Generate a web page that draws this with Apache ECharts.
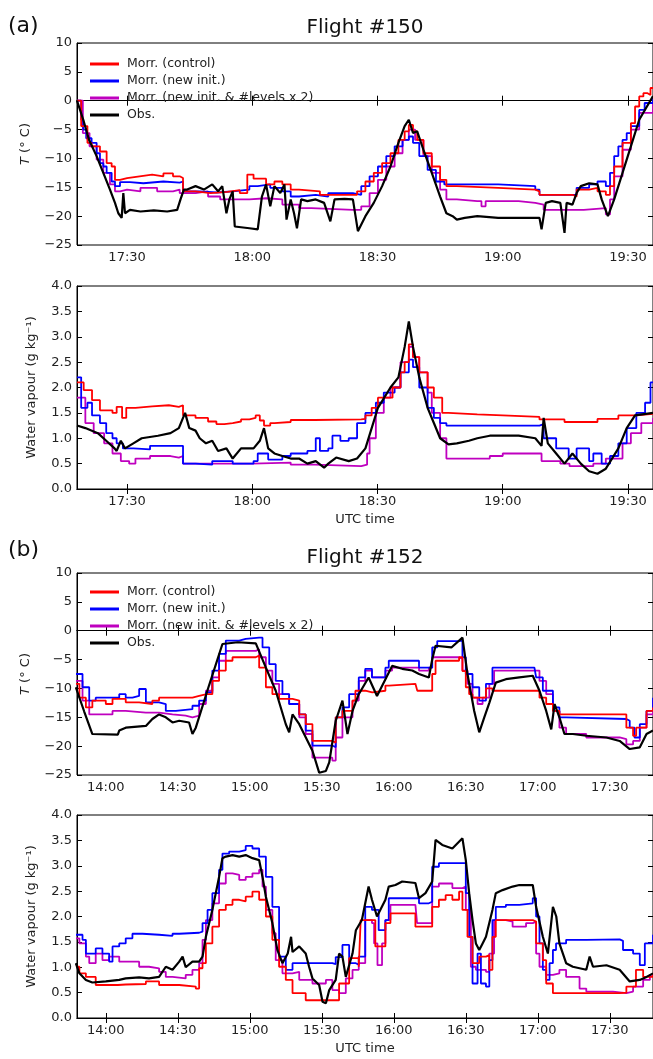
<!DOCTYPE html>
<html>
<head>
<meta charset="utf-8">
<script src="https://cdn.jsdelivr.net/npm/echarts@6/dist/echarts.min.js"></script>
<style>
  html, body { margin: 0; padding: 0; background: #fff; }
  #chart { width: 653px; height: 1059px; }
</style>
</head>
<body>
<div id="chart"></div>
<script>
// time in minutes after midnight (UTC)

// ---- Flight #150 ----
const xRange150 = [1038, 1176];
const ticks150 = [1050, 1080, 1110, 1140, 1170];

const tempControl150 = [[1038,0],[1039,-4.4],[1040.5,-7.3],[1041.5,-7.9],[1043.5,-8.8],[1045.1,-10.8],[1046.3,-11.4],[1047.1,-13.7],[1048.3,-13.4],[1050,-13.1],[1053,-12.8],[1056,-13.1],[1058.7,-12.6],[1061,-13.1],[1062.6,-13.4],[1063.4,-15.7],[1066.4,-16],[1070,-15.8],[1074,-15.5],[1077,-16],[1078.8,-12.8],[1080.3,-13.5],[1083.3,-14.5],[1085.3,-14],[1087.2,-14.5],[1089.2,-15.4],[1091.2,-15.7],[1096.2,-16.3],[1104.1,-16.3],[1105.1,-15.7],[1107.1,-14],[1109.1,-12.5],[1111.1,-10.8],[1113.1,-9.1],[1115,-6.8],[1116.5,-5.3],[1117.5,-4.2],[1118.5,-5.3],[1119.5,-6.8],[1121,-9.1],[1123,-11.4],[1125,-13.7],[1126.5,-14.8],[1129,-15.1],[1138.9,-15.4],[1147.8,-15.7],[1148.8,-16.3],[1156.7,-16.6],[1157.7,-15.4],[1160.7,-15.1],[1162.7,-15.7],[1164.7,-16.3],[1165.7,-14.8],[1166.7,-11.4],[1168.7,-7.3],[1170.7,-3.9],[1171.7,-1],[1172.7,0.75],[1173.7,1.3],[1174.7,1],[1175.4,2.2],[1176,2.2]];
const tempNewInit150 = [[1038,0],[1039,-3.3],[1039.5,-5],[1040.2,-6.5],[1041.5,-7.3],[1042.7,-9.1],[1043.5,-10.8],[1044.3,-11.4],[1045.1,-12.5],[1046.3,-14],[1047.1,-14.8],[1048.3,-14.1],[1050.7,-14.3],[1053.9,-14],[1058.7,-14.2],[1062.6,-14],[1063.4,-15.7],[1067.4,-15.9],[1071.4,-15.7],[1075.3,-15.4],[1079.3,-14.8],[1081.3,-14.5],[1084.3,-15.1],[1087.2,-15.7],[1089.2,-16.6],[1091.2,-16.3],[1095.2,-16.6],[1098.2,-16],[1101.1,-16],[1104.1,-16.3],[1106.1,-14.8],[1108.1,-13.1],[1110.1,-11.4],[1112.1,-9.6],[1114.1,-7.9],[1116,-6.8],[1117.5,-6.2],[1118.5,-7.3],[1120,-9.6],[1122,-12],[1124,-14],[1126,-14.5],[1129,-14.5],[1138.9,-14.8],[1147.8,-15.4],[1148.8,-16.3],[1156.7,-16.3],[1157.7,-15.1],[1160.7,-14.5],[1162.7,-14],[1164.7,-14.8],[1165.7,-12.5],[1166.7,-9.6],[1167.7,-7.9],[1168.7,-6.8],[1169.7,-5.6],[1170.7,-4.4],[1172.7,-1.6],[1174,-0.4],[1176,0.5]];
const tempLevels150 = [[1038,0],[1039.4,-5.6],[1041,-7.9],[1042.7,-10.2],[1044.3,-12.5],[1045.9,-14.5],[1047.1,-15.7],[1048.3,-15.4],[1050,-15.7],[1053.2,-15.1],[1057.2,-15.7],[1061,-15.4],[1062.6,-16],[1066.4,-15.7],[1069.4,-16.6],[1072.3,-17.1],[1079.3,-16.9],[1083.3,-17.1],[1087.2,-18],[1091.2,-18.6],[1094.2,-18.9],[1104.1,-18.9],[1106.1,-18.3],[1108.1,-16],[1110.1,-13.7],[1112.1,-11.4],[1114.1,-9.1],[1116,-6.8],[1117.5,-5],[1119,-6.8],[1121,-9.6],[1123,-12.5],[1125,-15.4],[1126.5,-17.1],[1129,-17.4],[1133.9,-17.4],[1134.9,-18.3],[1135.9,-17.4],[1143.8,-17.7],[1147.8,-18],[1149.8,-18.9],[1156.6,-18.9],[1159.4,-18.6],[1164.7,-19.7],[1165.7,-17.1],[1166.7,-13.1],[1168.7,-8.5],[1170.7,-5],[1172.7,-2.1],[1176,-0.4]];
const tempObs150 = [[1038,0],[1039.5,-3.3],[1040.9,-6.8],[1042.7,-9.6],[1044.3,-12.5],[1045.9,-15.4],[1047.1,-17.7],[1047.9,-19.5],[1048.7,-20.3],[1049.1,-16],[1049.5,-19.5],[1050.7,-18.9],[1053.2,-19.2],[1056.4,-19],[1059.6,-19.2],[1062,-18.9],[1062.8,-17.1],[1063.6,-15.4],[1064.4,-15.4],[1066.4,-14.8],[1068.4,-15.4],[1070.4,-14.5],[1071.8,-15.7],[1072.8,-14.8],[1073.8,-19.5],[1074.5,-17.1],[1075.3,-15.7],[1075.8,-21.8],[1079.3,-22.1],[1081.3,-22.3],[1082.3,-16.6],[1083.3,-14.5],[1084.3,-18.3],[1085.3,-14.8],[1086.7,-16],[1087.7,-14.5],[1088.2,-20.6],[1089.2,-17.1],[1090,-19.5],[1090.7,-22.1],[1091.7,-17.1],[1093.2,-17.4],[1095.2,-17.1],[1097.2,-17.7],[1098.7,-20.9],[1099.7,-17.1],[1102.1,-17],[1104.1,-17.1],[1105.3,-22.6],[1107.1,-20],[1109.1,-17.7],[1111.1,-14.8],[1113.1,-11.4],[1115,-7.3],[1116.5,-4.4],[1117.5,-3.3],[1118.5,-5.6],[1119.5,-5.3],[1121,-8.5],[1123,-12.5],[1125,-16.6],[1126.5,-19.5],[1128,-20],[1129,-20.6],[1130.9,-20.3],[1133.9,-20],[1138.9,-20.3],[1143.8,-20.3],[1148.8,-20.3],[1149.3,-22.3],[1150.3,-17.7],[1151.8,-17.4],[1153.8,-17.7],[1154.8,-22.9],[1155.3,-17.7],[1156.7,-18],[1157.7,-16],[1158.7,-14.8],[1160.7,-14.3],[1162.7,-14.5],[1163.7,-17.1],[1165.2,-20],[1166.7,-17.1],[1168.7,-12.5],[1170.7,-7.9],[1172.7,-3.3],[1176,0.8]];

const vapControl150 = [[1038,2.1],[1039.6,1.95],[1041.6,1.75],[1043.5,1.55],[1046.5,1.5],[1047.5,1.62],[1048.8,1.4],[1049.8,1.6],[1052,1.63],[1056,1.65],[1060,1.62],[1062.4,1.65],[1063.4,1.45],[1066.4,1.4],[1069.4,1.33],[1071.4,1.28],[1073.3,1.3],[1075.3,1.33],[1077.3,1.37],[1079.3,1.4],[1080.8,1.45],[1081.8,1.35],[1082.8,1.25],[1084.3,1.3],[1085.3,1.32],[1089.2,1.36],[1095,1.37],[1106.1,1.38],[1107.1,1.45],[1108.6,1.6],[1110.1,1.8],[1113.6,2.0],[1115.5,2.3],[1116.5,2.5],[1117.5,2.85],[1118.5,2.6],[1120,2.3],[1122,2.0],[1123.5,1.8],[1125.5,1.5],[1127,1.47],[1133.9,1.45],[1140,1.42],[1148.8,1.37],[1154.8,1.32],[1158.7,1.32],[1162.7,1.38],[1167.7,1.45],[1172,1.48],[1176,1.5]];
const vapNewInit150 = [[1038,2.2],[1039,1.6],[1040.5,1.7],[1041.6,1.45],[1043.5,1.3],[1045,1.1],[1046.5,1.0],[1047.5,0.9],[1049,0.8],[1051.5,0.78],[1055.5,0.85],[1062.4,0.85],[1063.4,0.5],[1066.4,0.48],[1070.4,0.55],[1075.3,0.5],[1080.3,0.55],[1081.3,0.7],[1083.8,0.58],[1087.2,0.65],[1089.2,0.7],[1093.2,0.75],[1095.2,1.0],[1096.2,0.75],[1098.2,0.8],[1099.2,1.05],[1101.1,0.95],[1103.1,1.0],[1105.1,1.3],[1107.1,1.5],[1109.6,1.7],[1111.5,1.9],[1114.1,2.0],[1115.5,2.3],[1117.5,2.55],[1118.5,2.4],[1120,2.0],[1122,1.6],[1123.5,1.4],[1125,1.3],[1126.5,1.25],[1135,1.25],[1148.8,1.28],[1149.8,1.0],[1152.8,0.8],[1155.8,0.6],[1157.7,0.8],[1160.7,0.55],[1161.7,0.7],[1163.7,0.5],[1165.7,0.65],[1167.7,0.9],[1169.7,1.2],[1172,1.5],[1174.1,1.7],[1175.4,2.1],[1176,2.1]];
const vapLevels150 = [[1038,1.8],[1040,1.3],[1042,1.1],[1044.5,0.9],[1046.5,0.7],[1048.5,0.55],[1050.5,0.5],[1052,0.6],[1055.5,0.65],[1060.4,0.62],[1062.4,0.65],[1063.4,0.5],[1070,0.5],[1080,0.52],[1089.2,0.48],[1095,0.45],[1106.1,0.48],[1107.5,0.7],[1108.1,1.0],[1109.6,1.5],[1111.5,1.8],[1113.1,2.0],[1115.5,2.5],[1117.5,2.8],[1118.5,2.6],[1120,2.3],[1122,1.9],[1123,1.5],[1125,1.0],[1126.5,0.6],[1130,0.6],[1136.9,0.65],[1140,0.7],[1148.8,0.7],[1149.3,0.55],[1153.8,0.5],[1156,0.45],[1159.4,0.45],[1161.7,0.5],[1164.7,0.6],[1168.7,0.9],[1170.7,1.1],[1173.2,1.3],[1176,1.4]];
const vapObs150 = [[1038,1.25],[1040,1.2],[1043,1.1],[1045,0.95],[1047,0.8],[1047.5,0.75],[1048.5,0.95],[1049.5,0.8],[1051.5,0.9],[1053.5,1.0],[1057.4,1.05],[1060.4,1.1],[1062.4,1.2],[1063.4,1.4],[1063.9,1.5],[1064.9,1.2],[1066.4,1.15],[1067.4,1.0],[1068.9,0.9],[1070.4,0.95],[1071.8,0.75],[1073.8,0.8],[1075.3,0.6],[1077.3,0.8],[1080.3,0.8],[1081.8,0.95],[1082.8,1.2],[1083.8,0.8],[1085.3,0.7],[1087.2,0.65],[1089.2,0.6],[1091.2,0.6],[1093.2,0.5],[1095.2,0.55],[1097.2,0.42],[1098.2,0.5],[1100.1,0.62],[1103.1,0.55],[1105.1,0.6],[1107.1,0.8],[1108.6,1.2],[1110.1,1.6],[1113.1,2.0],[1115,2.2],[1116.5,2.8],[1117.5,3.3],[1118.5,2.8],[1120,2.2],[1122,1.6],[1123.5,1.3],[1125,1.0],[1127,0.88],[1129,0.9],[1131.9,0.95],[1133.9,1.0],[1136.9,1.05],[1143.8,1.05],[1147.8,1.0],[1149.3,0.85],[1149.8,1.4],[1150.8,0.9],[1152.8,0.7],[1154.8,0.5],[1156.7,0.7],[1158.7,0.5],[1160.7,0.35],[1162.7,0.3],[1164.7,0.4],[1167.7,0.8],[1169.7,1.2],[1171.7,1.45],[1176,1.5]];

// ---- Flight #152 ----
const xRange152 = [828, 1068];
const ticks152 = [840, 870, 900, 930, 960, 990, 1020, 1050];

const tempControl152 = [[827.5,-9.2],[829,-11.6],[831.7,-13.3],[834.4,-12.1],[840,-12.7],[842.8,-11.8],[848.3,-12.4],[853.9,-12.7],[859.4,-12.1],[862.2,-11.6],[870,-11.6],[876.1,-11.3],[878.9,-11],[882,-11],[884.4,-8.7],[887.2,-6.9],[890,-5.2],[892.8,-4.6],[902.5,-4.3],[903.9,-6.4],[906.7,-9.8],[909.4,-11],[912.2,-11.8],[917.8,-12.1],[920.6,-14.5],[923.3,-16.2],[926.1,-19.1],[934.4,-19.4],[935.8,-15],[938.6,-13.9],[942.8,-12.1],[944,-10.4],[948.1,-10.7],[951,-10.4],[956.5,-9.5],[958,-9.2],[969,-9.2],[969.8,-10.4],[974.6,-10.4],[976,-7.5],[977.4,-5.2],[987.2,-4.6],[988.6,-7],[990,-9.8],[991.4,-11],[992.8,-11.6],[995.6,-11.6],[998.4,-10],[1001.1,-10.4],[1017.9,-10.4],[1020.7,-11.6],[1023.5,-12.7],[1026.3,-13.9],[1029,-14.5],[1055.5,-14.5],[1056.9,-16.8],[1059.7,-18.2],[1061,-16.8],[1063.9,-16.8],[1065.3,-13.9],[1068,-13.3]];
const tempNewInit152 = [[827.5,-7.5],[830.3,-9.8],[833.1,-12.1],[835.8,-11.6],[845.6,-11],[848.3,-11.6],[851.1,-11.3],[853.9,-10.1],[856.7,-12.4],[862.2,-12.7],[865,-13.9],[869.2,-13.6],[876.1,-13],[878.9,-12.1],[881.7,-10.7],[884.4,-6.9],[887.2,-4],[890,-1.7],[895.6,-1.4],[898.3,-1.2],[903.9,-1.2],[905.3,-2.9],[908.1,-5.8],[910.8,-8.7],[913.6,-11],[916.4,-12.7],[920.6,-14.5],[923.3,-17.3],[926.1,-19.9],[934.4,-20.2],[935.8,-15],[938.6,-13.3],[941.4,-11],[945.4,-8.1],[948.1,-6.6],[950.9,-8.1],[955.1,-8.1],[956.5,-6.4],[957.9,-5.2],[969,-5.2],[970.5,-6.4],[974.6,-6.4],[976,-2.9],[978.1,-1.8],[987.2,-1.7],[988.6,-4.6],[990,-7.5],[992.8,-9.8],[995.6,-12.1],[998.4,-9.2],[1001.1,-6.4],[1018.6,-6.4],[1019.3,-8.1],[1022.1,-10.4],[1026.3,-13.3],[1029,-15],[1031.8,-15.3],[1056.9,-15.6],[1058.3,-16.8],[1060.3,-18.5],[1062.5,-16.2],[1065.3,-13.9],[1068,-11.6]];
const tempLevels152 = [[827.5,-8.7],[830.3,-12.1],[833.1,-14.5],[840,-14.5],[842.8,-13.9],[848.3,-14.2],[856.7,-14.2],[862.2,-14.5],[867.8,-14.7],[873.3,-15],[876.1,-14.7],[878.9,-12.7],[881.7,-10.4],[884.4,-8.1],[887.2,-5.2],[890,-3.5],[902.5,-3.2],[903.9,-4.6],[906.7,-6.9],[909.4,-9.2],[912.2,-11],[916.4,-12.7],[920.6,-15],[923.3,-17.9],[926.1,-22],[934.4,-22.5],[935.8,-18.5],[938.6,-15],[942.8,-12.1],[945.4,-8.7],[948.1,-6.9],[950.9,-8.1],[955.1,-8.1],[956.5,-6.9],[959.3,-6.4],[970.5,-6.9],[974.6,-6.4],[976,-4.6],[987.2,-4.9],[988.6,-6.9],[990.7,-9.2],[992.8,-11.6],[994.9,-12.7],[997,-11.6],[999.8,-9.2],[1001.8,-6.9],[1017.9,-6.9],[1020.7,-8.7],[1023.5,-11],[1026.3,-13.9],[1029,-16.8],[1031.8,-17.9],[1040.2,-18.5],[1054.1,-18.8],[1056.9,-19.7],[1059.7,-19.1],[1062.5,-16.8],[1065.3,-14.5],[1068,-12.1]];
const tempObs152 = [[827.5,-9.8],[831,-14],[834.4,-17.9],[845,-18],[845.6,-17.3],[848.3,-16.8],[856.7,-16.5],[859.4,-15.3],[862.2,-14.5],[865,-15],[867.8,-15.9],[870.6,-15.6],[874.7,-15.9],[876.1,-17.9],[877.5,-16.8],[883,-9.5],[888.6,-2.3],[895,-2],[902.5,-2.2],[906.7,-6.4],[910.8,-10.4],[915,-16.2],[916.4,-17.6],[917.8,-14.5],[920.6,-16.2],[926.1,-20.8],[928.9,-24.6],[931.7,-24.3],[933.1,-22.8],[935.8,-15.6],[938.6,-12.1],[940.7,-17.9],[942.8,-13.9],[945.4,-11],[949.5,-8.1],[953,-11.3],[959.3,-6.1],[963.5,-6.6],[967.7,-6.9],[970.5,-7.5],[974.6,-8.1],[976,-5],[977.4,-2.6],[984,-2.9],[988.6,-1.2],[990.7,-7.5],[993.5,-13.9],[995.6,-17.6],[997.7,-15],[999.8,-12.5],[1002.5,-9],[1006.7,-8.4],[1012.3,-8.1],[1017.9,-7.8],[1020.7,-10.4],[1023.5,-13.9],[1025.6,-17.1],[1027,-12.7],[1029,-15],[1031.1,-17.9],[1034.6,-17.9],[1040.2,-18.2],[1048.6,-18.5],[1054.1,-19.1],[1058.3,-20.5],[1062.5,-20.2],[1065.3,-17.9],[1068,-17.3]];

const vapControl152 = [[827.5,1.01],[829,0.88],[831.7,0.81],[835.8,0.65],[845,0.66],[848.3,0.67],[856.7,0.72],[862.2,0.65],[867.8,0.65],[870.6,0.62],[877.5,0.58],[878.9,0.98],[880.3,1.08],[881.7,1.47],[884.4,1.8],[887.2,2.13],[890,2.23],[892.8,2.33],[895.6,2.3],[898.3,2.39],[901.1,2.49],[903.9,2.33],[906.7,2.0],[909.4,1.54],[912.2,1.01],[915,0.75],[917.8,0.49],[923.3,0.35],[935.8,0.35],[937.2,0.68],[938.6,0.68],[941.4,1.18],[944,1.18],[945.4,1.01],[946.2,1.93],[950.9,1.93],[952.3,1.41],[955.1,1.41],[956.5,1.87],[958.6,2.06],[967.7,2.06],[969,1.8],[974.6,1.8],[976,2.19],[978.8,2.33],[981.6,2.42],[984.4,2.33],[987.2,2.49],[988.6,2.13],[990.7,1.6],[992.8,1.08],[995.6,1.21],[998.4,1.24],[999.8,0.95],[1001.1,1.6],[1002.5,1.93],[1017.9,1.9],[1019.3,1.47],[1022.1,1.14],[1023.5,0.68],[1026.3,0.49],[1054.1,0.5],[1056.9,0.62],[1060.9,0.95],[1063.9,0.81],[1068,0.88]];
const vapNewInit152 = [[827.5,1.64],[830.3,1.54],[831.7,1.27],[835.8,1.37],[838.6,1.27],[841.4,1.11],[842.8,1.41],[845.6,1.47],[848.3,1.57],[851.1,1.66],[855.3,1.64],[862.2,1.62],[867.8,1.66],[870.6,1.68],[878.9,1.7],[880.3,1.87],[882.4,2.13],[884.4,2.46],[887.2,2.92],[888.6,3.24],[891.4,3.28],[895.6,3.31],[898.3,3.39],[901.1,3.34],[903.9,3.18],[906.7,2.78],[909.4,2.19],[912.2,1.21],[915,0.95],[917.8,1.08],[934.4,1.06],[935.8,1.2],[938.6,1.44],[941.4,1.08],[944.2,1.05],[945.4,1.21],[948.1,2.19],[950.9,2.13],[953.7,1.73],[956.5,1.93],[957.9,2.36],[969,2.36],[970.5,2.26],[974.6,2.29],[976,2.98],[978.8,3.05],[988.6,3.05],[990,2.46],[991.4,1.6],[992.8,0.68],[994.9,1.27],[996.3,0.68],[998.4,0.62],[999.8,1.14],[1001.1,1.93],[1002.5,2.19],[1006.7,2.23],[1012.3,2.26],[1017.9,2.36],[1019.3,2.0],[1020.7,1.47],[1022.1,0.95],[1023.5,0.75],[1024.9,1.08],[1026.3,1.34],[1027.6,1.47],[1031.8,1.54],[1040.2,1.55],[1054.1,1.52],[1055.5,1.34],[1059.7,1.27],[1062.5,1.04],[1064.6,1.47],[1068,1.64]];
const vapLevels152 = [[827.5,1.57],[829,1.47],[831.7,1.21],[833.1,1.08],[835.8,1.27],[838.6,1.14],[841.4,1.21],[845.6,1.11],[853.9,1.01],[858,0.98],[862.2,0.91],[865,0.81],[867.8,0.78],[873.3,0.85],[876.1,0.95],[878.9,1.08],[880.3,1.54],[881.7,1.93],[884.4,2.26],[887.2,2.65],[890,2.85],[892.8,2.82],[895.6,2.72],[898.3,2.78],[901.1,2.85],[903.9,2.92],[905.3,2.59],[906.7,2.13],[909.4,1.67],[910.8,1.14],[913.6,0.88],[917.8,0.91],[920.6,0.75],[926.1,0.68],[930.3,0.68],[931.7,0.75],[934.4,0.55],[937.2,0.49],[940,0.78],[942.8,0.95],[945.4,1.08],[948.1,1.93],[950.9,1.87],[951.8,1.47],[953.2,1.04],[955.1,1.47],[956.5,1.93],[958.6,2.23],[969,2.26],[969.7,1.87],[974.6,1.87],[976,2.59],[978.8,2.65],[984.4,2.56],[988.6,2.59],[990,2.13],[992.1,1.01],[994.2,0.95],[998.4,0.91],[999.8,1.27],[1001.8,1.93],[1006.7,1.9],[1009.5,1.8],[1015.1,1.87],[1017.9,1.9],[1019.3,1.27],[1020.7,1.01],[1023.5,0.85],[1026.3,0.88],[1029,0.95],[1031.8,0.81],[1037.4,0.58],[1040.2,0.52],[1051.3,0.49],[1056.9,0.52],[1059.7,0.62],[1063.9,0.75],[1066.7,0.85],[1068,0.88]];
const vapObs152 = [[827.5,1.08],[829,0.88],[831.7,0.75],[834.4,0.7],[840,0.72],[845.6,0.75],[848.3,0.78],[853.9,0.8],[858,0.78],[862.2,0.81],[865,1.01],[867.8,0.95],[870.6,1.11],[872,1.21],[873.3,1.0],[876.1,1.11],[878.9,1.11],[880.3,1.21],[881.7,1.6],[884.4,2.13],[887.2,2.78],[888.6,3.15],[890,3.18],[892.8,3.21],[895.6,3.18],[898.3,3.21],[901.1,3.15],[903.9,3.11],[905.3,2.78],[906.7,2.39],[909.4,1.87],[911.5,1.34],[913.6,1.08],[915.8,1.27],[917.2,1.6],[917.8,1.3],[920.6,1.41],[923.3,1.27],[924.7,1.01],[926.1,0.78],[928.9,0.65],[930.3,0.32],[931.7,0.29],[933.1,0.55],[935.8,0.75],[937.2,1.27],[938.6,1.21],[940,0.81],[942.8,1.27],[944.2,1.73],[946.7,1.93],[949.5,2.59],[950.9,2.33],[953,2.0],[956.5,2.33],[957.9,2.59],[960.7,2.62],[963.5,2.69],[969,2.66],[970.5,2.36],[973.2,2.46],[976,2.69],[977.4,3.51],[980.2,3.41],[984.4,3.34],[988.6,3.54],[990,3.11],[991.4,2.46],[992.8,1.93],[994.2,1.47],[995.6,1.34],[997,1.47],[998.4,1.6],[1001.1,2.13],[1002.5,2.46],[1005.3,2.52],[1009.5,2.59],[1012.3,2.62],[1017.9,2.62],[1019.3,2.19],[1022.1,1.6],[1024.2,1.27],[1026.3,2.19],[1027.7,2.0],[1029,1.47],[1031.8,1.08],[1034.6,1.01],[1040.2,0.95],[1041.6,1.21],[1043,1.01],[1048.6,1.04],[1054.1,0.95],[1058.3,0.72],[1062.5,0.75],[1065.3,0.81],[1068,0.88]];

const seriesNames = ['Morr. (control)', 'Morr. (new init.)', 'Morr. (new init. & #levels x 2)', 'Obs.'];
const seriesColors = ['#ff0000', '#0000ff', '#bf00bf', '#000000'];

const font = 'DejaVu Sans';

document.addEventListener('DOMContentLoaded', function() {

    function hhmm(v) {
        let h = Math.floor(v / 60)
        let m = Math.round(v - h * 60)
        return h + ':' + (m < 10 ? '0' : '') + m
    }

    function minus(v) {
        return String(v).replace('-', '\u2212')
    }

    // grids: temp 150, vapour 150, temp 152, vapour 152
    let grids = [
        { left: 77, width: 577, top: 43, height: 202 },
        { left: 77, width: 577, top: 286, height: 203 },
        { left: 77, width: 577, top: 573, height: 202 },
        { left: 77, width: 577, top: 815, height: 203 }
    ].map(g => Object.assign(g, { show: true, borderColor: '#000', borderWidth: 1, backgroundColor: 'transparent' }))

    let ranges = [xRange150, xRange150, xRange152, xRange152]
    let ticks = [ticks150, ticks150, ticks152, ticks152]

    let xAxis = []
    for (let i = 0; i < 4; i++) {
        xAxis.push({
            type: 'value',
            gridIndex: i,
            position: 'bottom',
            min: ranges[i][0],
            max: ranges[i][1],
            name: (i === 1 || i === 3) ? 'UTC time' : '',
            nameLocation: 'middle',
            nameGap: 24,
            nameTextStyle: { color: '#222', fontSize: 13, fontFamily: font },
            axisLine: { show: true, lineStyle: { color: '#000' } },
            axisTick: { show: true, inside: true, length: 5, customValues: ticks[i], lineStyle: { color: '#000' } },
            axisLabel: { customValues: ticks[i], formatter: hhmm, color: '#222', fontSize: 13, fontFamily: font, margin: 6 },
            splitLine: { show: false }
        })
    }
    for (let i = 0; i < 4; i++) {
        xAxis.push({
            type: 'value',
            gridIndex: i,
            position: 'top',
            min: ranges[i][0],
            max: ranges[i][1],
            axisLine: { show: true, lineStyle: { color: '#000' } },
            axisTick: { show: true, inside: true, length: 5, customValues: ticks[i], lineStyle: { color: '#000' } },
            axisLabel: { show: false },
            splitLine: { show: false }
        })
    }

    let yAxis = []
    for (let i = 0; i < 4; i++) {
        let isTemp = (i % 2 === 0)
        yAxis.push({
            type: 'value',
            gridIndex: i,
            position: 'left',
            min: isTemp ? -25 : 0,
            max: isTemp ? 10 : 4,
            interval: isTemp ? 5 : 0.5,
            name: isTemp ? '{it|T} (° C)' : 'Water vapour (g kg\u207B\u00B9)',
            nameLocation: 'middle',
            nameGap: isTemp ? 45 : 39,
            nameTextStyle: {
                color: '#222', fontSize: 13, fontFamily: font,
                rich: { it: { fontStyle: 'italic', fontSize: 13, fontFamily: font, color: '#222' } }
            },
            axisLine: { show: true, lineStyle: { color: '#000' } },
            axisTick: { show: true, inside: true, length: 5, lineStyle: { color: '#000' } },
            axisLabel: {
                color: '#222', fontSize: 13, fontFamily: font, margin: 5,
                formatter: isTemp ? minus : (v => v.toFixed(1))
            },
            splitLine: { show: false }
        })
    }
    for (let i = 0; i < 4; i++) {
        let isTemp = (i % 2 === 0)
        yAxis.push({
            type: 'value',
            gridIndex: i,
            position: 'right',
            min: isTemp ? -25 : 0,
            max: isTemp ? 10 : 4,
            interval: isTemp ? 5 : 0.5,
            axisLine: { show: true, lineStyle: { color: '#000' } },
            axisTick: { show: true, inside: true, length: 5, lineStyle: { color: '#000' } },
            axisLabel: { show: false },
            splitLine: { show: false }
        })
    }

    let panels = [
        [tempControl150, tempNewInit150, tempLevels150, tempObs150],
        [vapControl150, vapNewInit150, vapLevels150, vapObs150],
        [tempControl152, tempNewInit152, tempLevels152, tempObs152],
        [vapControl152, vapNewInit152, vapLevels152, vapObs152]
    ]

    let series = []
    panels.forEach((list, gi) => {
        list.forEach((data, k) => {
            series.push({
                name: seriesNames[k],
                type: 'line',
                xAxisIndex: gi,
                yAxisIndex: gi,
                data: data,
                step: k < 3 ? 'end' : false,
                showSymbol: false,
                symbol: 'none',
                clip: true,
                lineStyle: { color: seriesColors[k], width: k === 3 ? 2.2 : 1.8 },
                itemStyle: { color: seriesColors[k] },
                z: k === 3 ? 4 : 3 - k + 1
            })
        })
    })

    let legendBase = {
        orient: 'vertical',
        left: 85,
        icon: 'rect',
        itemWidth: 29,
        itemHeight: 3,
        itemGap: 3,
        data: seriesNames,
        textStyle: { color: '#222', fontSize: 12.5, fontFamily: font, lineHeight: 14, padding: [0, 0, 0, 3] },
        selectedMode: false
    }

    let option = {
        animation: false,
        backgroundColor: '#fff',
        grid: grids,
        xAxis: xAxis,
        yAxis: yAxis,
        legend: [
            Object.assign({}, legendBase, { top: 52 }),
            Object.assign({}, legendBase, { top: 580 })
        ],
        graphic: [
            { type: 'text', left: 8, top: 15, style: { text: '(a)', font: '22px ' + font, fill: '#111' } },
            { type: 'text', left: 8, top: 539, style: { text: '(b)', font: '22px ' + font, fill: '#111' } },
            { type: 'text', x: 365, y: 28, style: { text: 'Flight #150', font: '20px ' + font, fill: '#111', textAlign: 'center', textVerticalAlign: 'middle' } },
            { type: 'text', x: 365, y: 558, style: { text: 'Flight #152', font: '20px ' + font, fill: '#111', textAlign: 'center', textVerticalAlign: 'middle' } }
        ],
        series: series
    }

    let chart = echarts.init(document.getElementById('chart'))
    chart.setOption(option)
})
</script>
</body>
</html>
